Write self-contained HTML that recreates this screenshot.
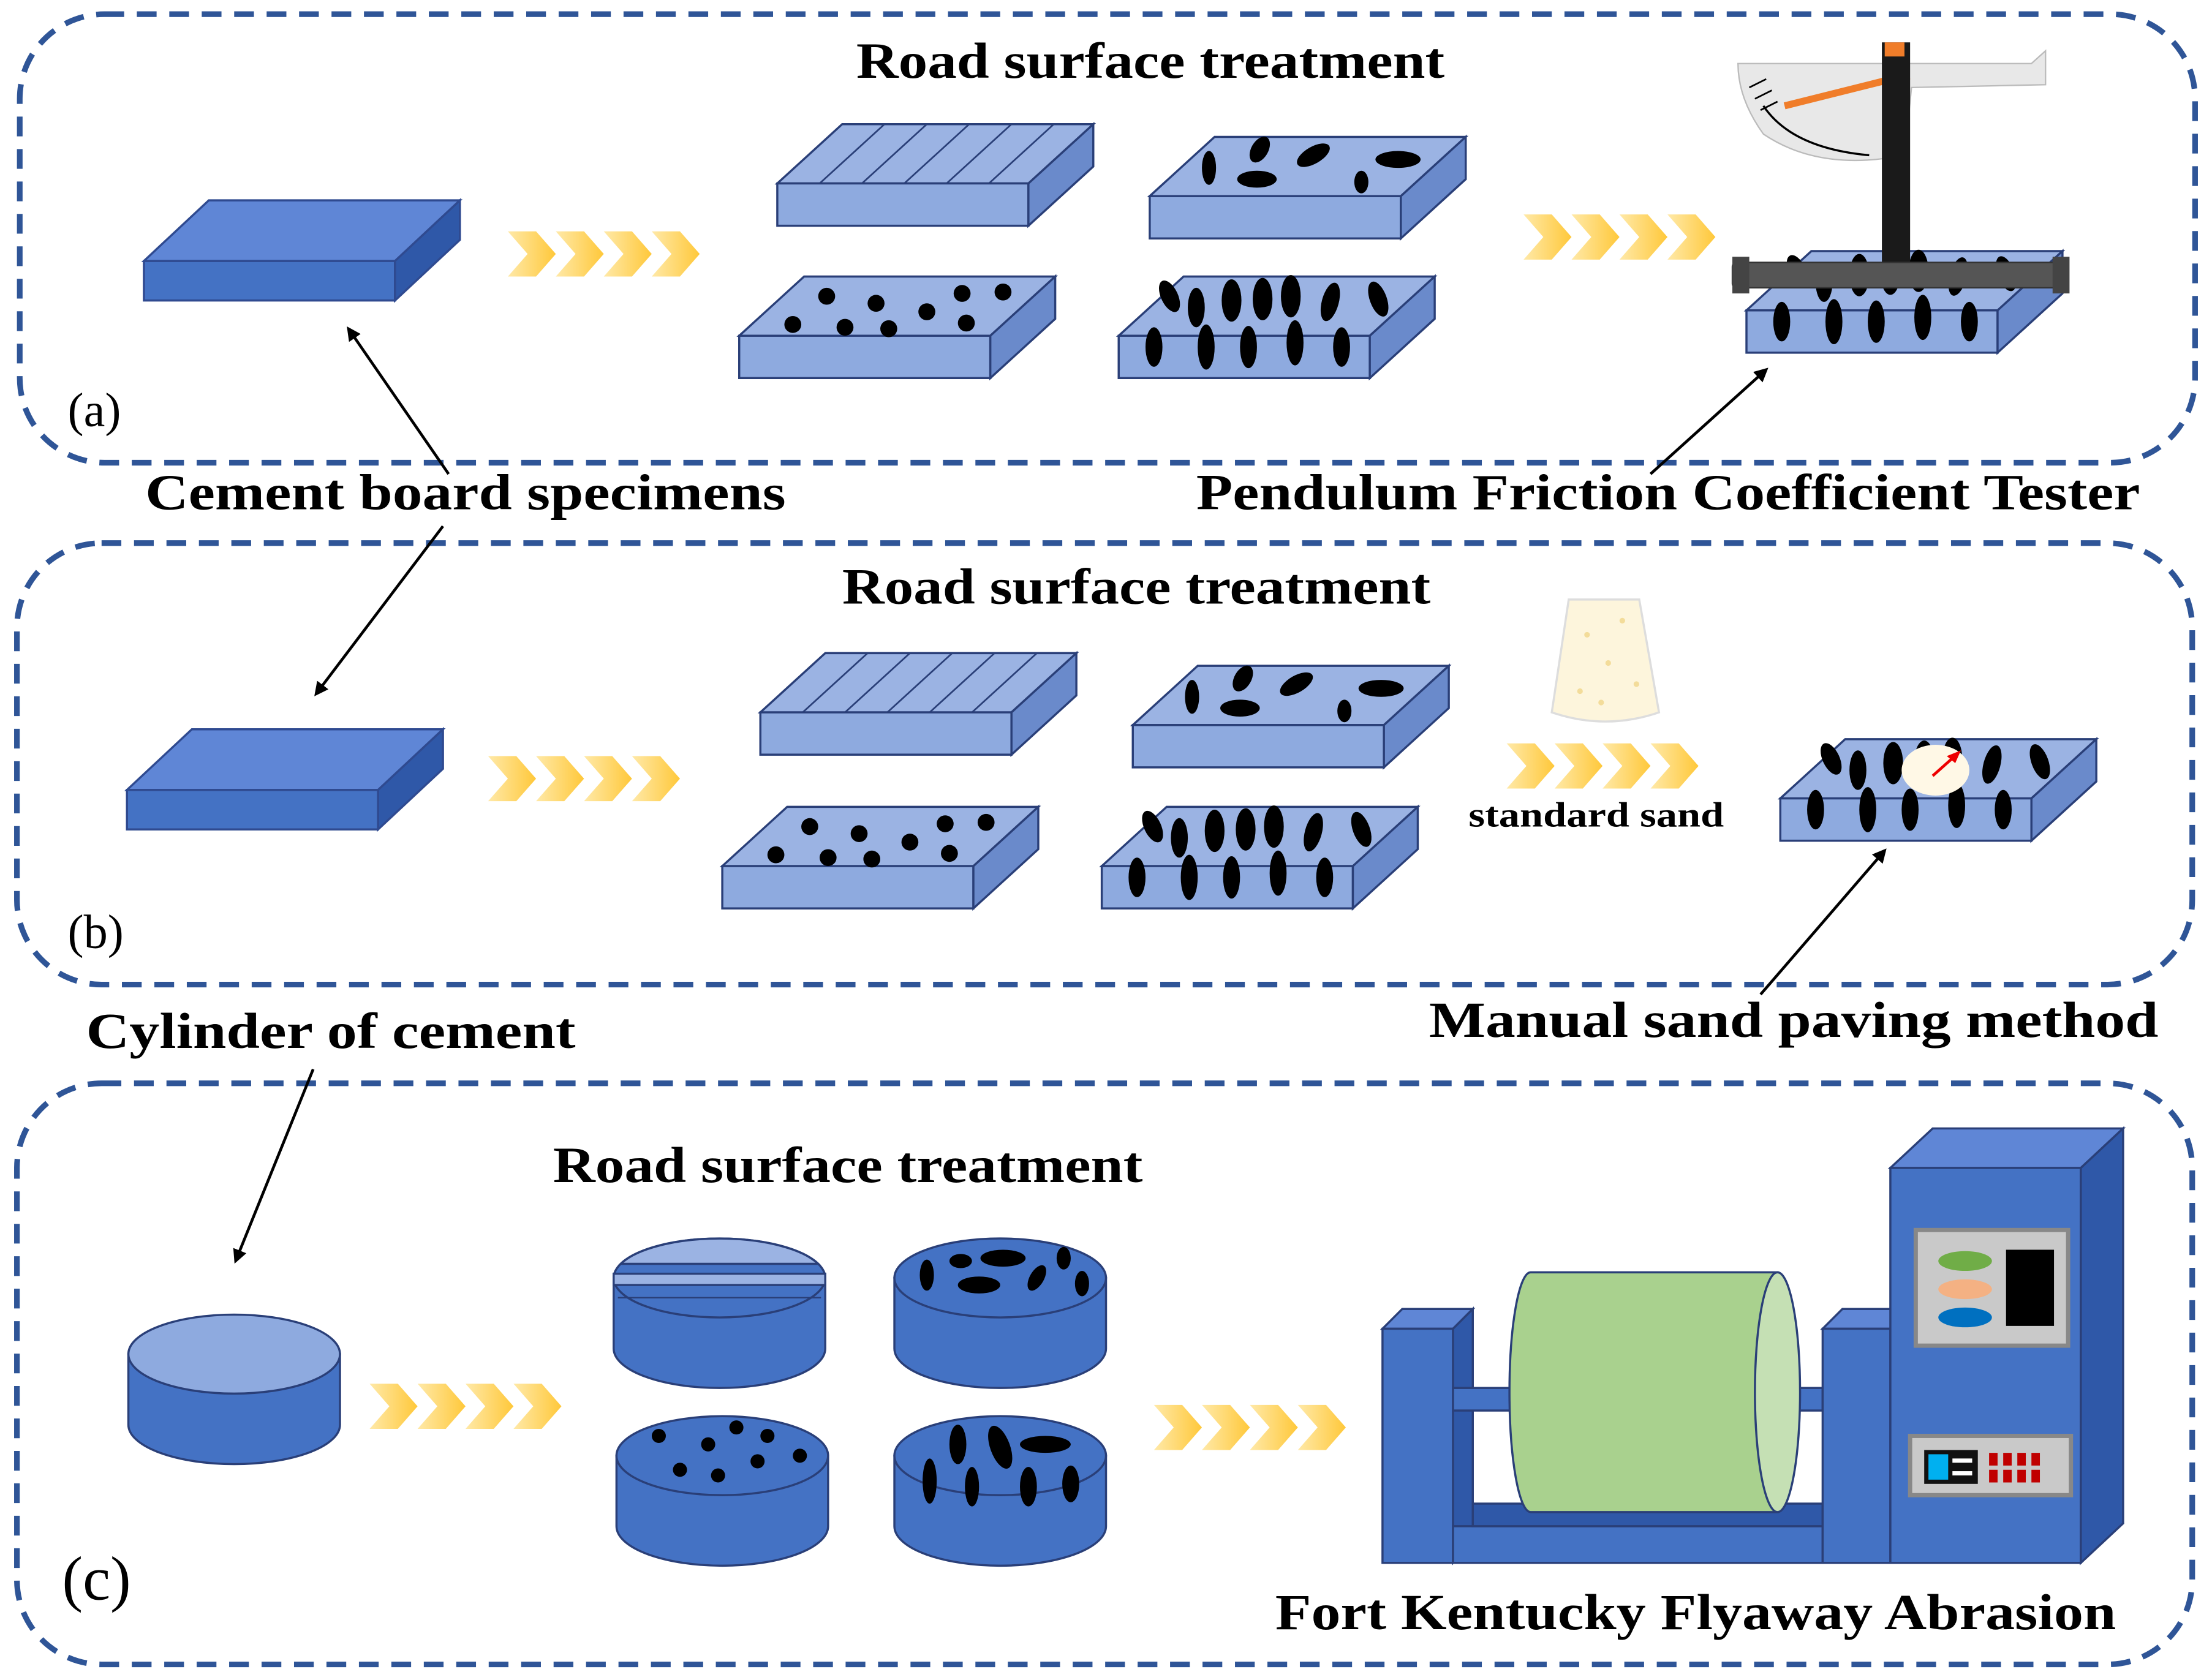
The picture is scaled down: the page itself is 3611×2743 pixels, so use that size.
<!DOCTYPE html>
<html><head><meta charset="utf-8"><style>
html,body{margin:0;padding:0;background:#fff}
svg{display:block}
text{font-family:"Liberation Serif",serif;font-weight:bold;fill:#000}
</style></head><body>
<svg width="3611" height="2743" viewBox="0 0 1568 1191" xmlns="http://www.w3.org/2000/svg">
<defs>
<linearGradient id="chev" x1="0" x2="1"><stop offset="0" stop-color="#ffe9a8"/><stop offset="1" stop-color="#ffc83a"/></linearGradient>
<marker id="ah" markerWidth="10" markerHeight="10" refX="8" refY="5" orient="auto" markerUnits="userSpaceOnUse"><path d="M0,0 L10,5 L0,10 z" fill="#000"/></marker>
<g id="big">
<polygon points="0,43 46,0 224,0 178,43" fill="#5f86d6" stroke="#2f4a90" stroke-width="1.5"/>
<rect x="0" y="43" width="178" height="28" fill="#4472c4" stroke="#2f4a90" stroke-width="1.5"/>
<polygon points="178,43 224,0 224,28 178,71" fill="#2f58a8" stroke="#2f4a90" stroke-width="1.5"/>
</g>
<g id="ts">
<polygon points="0,42 46,0 224,0 178,42" fill="#9bb3e3" stroke="#2a3f78" stroke-width="1.5"/>
<rect x="0" y="42" width="178" height="30" fill="#8eaadf" stroke="#2a3f78" stroke-width="1.5"/>
<polygon points="178,42 224,0 224,30 178,72" fill="#6a8acb" stroke="#2a3f78" stroke-width="1.5"/>
</g>
<g id="lines"><use href="#ts"/>
<g stroke="#2a3f78" stroke-width="1.2"><line x1="30" y1="42" x2="76" y2="0"/><line x1="60" y1="42" x2="106" y2="0"/><line x1="90" y1="42" x2="136" y2="0"/><line x1="120" y1="42" x2="166" y2="0"/><line x1="150" y1="42" x2="196" y2="0"/></g></g>
<g id="ell"><use href="#ts"/><g fill="#000">
<ellipse cx="42" cy="22" rx="5" ry="12"/><ellipse cx="78" cy="9" rx="6" ry="10" transform="rotate(30 78 9)"/><ellipse cx="76" cy="30" rx="14" ry="6"/><ellipse cx="116" cy="13" rx="13" ry="6" transform="rotate(-30 116 13)"/><ellipse cx="150" cy="32" rx="5" ry="8"/><ellipse cx="176" cy="16" rx="16" ry="6"/></g></g>
<g id="dots"><use href="#ts"/><g fill="#000">
<circle cx="38" cy="34" r="6"/><circle cx="62" cy="14" r="6"/><circle cx="75" cy="36" r="6"/><circle cx="97" cy="19" r="6"/><circle cx="106" cy="37" r="6"/><circle cx="133" cy="25" r="6"/><circle cx="158" cy="12" r="6"/><circle cx="161" cy="33" r="6"/><circle cx="187" cy="11" r="6"/></g></g>
<g id="ovals"><use href="#ts"/><g fill="#000">
<ellipse cx="36" cy="14" rx="6" ry="12" transform="rotate(-25 36 14)"/><ellipse cx="25" cy="50" rx="6" ry="14"/><ellipse cx="55" cy="22" rx="6" ry="14"/><ellipse cx="80" cy="17" rx="7" ry="15"/><ellipse cx="62" cy="50" rx="6" ry="16"/><ellipse cx="102" cy="16" rx="7" ry="15"/><ellipse cx="92" cy="50" rx="6" ry="15"/><ellipse cx="122" cy="14" rx="7" ry="15"/><ellipse cx="125" cy="47" rx="6" ry="16"/><ellipse cx="150" cy="18" rx="6" ry="14" transform="rotate(15 150 18)"/><ellipse cx="158" cy="50" rx="6" ry="14"/><ellipse cx="184" cy="16" rx="6" ry="13" transform="rotate(-20 184 16)"/></g></g>
<g id="chv" fill="url(#chev)"><polygon points="0,-16 20,-16 34,0 20,16 0,16 14,0"/><polygon points="34,-16 54,-16 68,0 54,16 34,16 48,0"/><polygon points="68,-16 88,-16 102,0 88,16 68,16 82,0"/><polygon points="102,-16 122,-16 136,0 122,16 102,16 116,0"/></g>
<g id="cyl"><path d="M-75,0 L-75,50 A75,28 0 0 0 75,50 L75,0 z" fill="#4472c4" stroke="#2a3f78" stroke-width="1.5"/><ellipse cx="0" cy="0" rx="75" ry="28" fill="#4472c4" stroke="#2a3f78" stroke-width="1.5"/></g>
</defs>

<g fill="none" stroke="#2f5597" stroke-width="4" stroke-dasharray="14,9">
<rect x="14" y="10" width="1542" height="318" rx="60"/>
<rect x="12" y="385" width="1542" height="313" rx="60"/>
<rect x="12" y="768" width="1542" height="412" rx="60"/>
</g>

<!-- (a) -->
<text x="607" y="55" font-size="36" textLength="417" lengthAdjust="spacingAndGlyphs">Road surface treatment</text>
<use href="#big" x="102" y="142"/>
<use href="#chv" x="360" y="180"/>
<use href="#lines" x="551" y="88"/>
<use href="#ell" x="815" y="97"/>
<use href="#dots" x="524" y="196"/>
<use href="#ovals" x="793" y="196"/>
<use href="#chv" x="1080" y="168"/>
<!-- pendulum -->
<use href="#ovals" x="1238" y="178"/>
<path d="M1232,45 L1440,45 L1450,36 L1450,60 L1355,62 L1350,110 Q1290,122 1250,95 Q1232,70 1232,45 z" fill="#e8e8e8" stroke="#bbb" stroke-width="1"/>
<path d="M1250,75 Q1270,105 1325,110" fill="none" stroke="#000" stroke-width="1.5"/>
<g stroke="#000" stroke-width="1.2"><line x1="1240" y1="62" x2="1252" y2="56"/><line x1="1244" y1="70" x2="1256" y2="64"/><line x1="1248" y1="78" x2="1260" y2="72"/></g>
<line x1="1265" y1="75" x2="1345" y2="55" stroke="#f07d2a" stroke-width="5"/>
<circle cx="1346" cy="56" r="8" fill="#f07d2a"/>
<rect x="1334" y="30" width="20" height="160" fill="#1a1a1a"/>
<rect x="1336" y="30" width="14" height="10" fill="#f07d2a"/>
<rect x="1228" y="186" width="238" height="18" rx="3" fill="#555" stroke="#333"/>
<rect x="1228" y="182" width="12" height="26" fill="#444"/><rect x="1455" y="182" width="12" height="26" fill="#444"/>
<text x="48" y="302" font-size="34" style="font-weight:normal">(a)</text>

<text x="103" y="361" font-size="36" textLength="454" lengthAdjust="spacingAndGlyphs">Cement board specimens</text>
<text x="848" y="361" font-size="36" textLength="669" lengthAdjust="spacingAndGlyphs">Pendulum Friction Coefficient Tester</text>
<g stroke="#000" stroke-width="2" marker-end="url(#ah)">
<line x1="318" y1="336" x2="247" y2="233"/>
<line x1="314" y1="373" x2="224" y2="492"/>
<line x1="1170" y1="336" x2="1252" y2="262"/>
<line x1="1248" y1="705" x2="1336" y2="603"/>
<line x1="222" y1="758" x2="167" y2="894"/>
</g>

<!-- (b) -->
<text x="597" y="428" font-size="36" textLength="417" lengthAdjust="spacingAndGlyphs">Road surface treatment</text>
<use href="#big" x="90" y="517"/>
<use href="#chv" x="346" y="552"/>
<use href="#lines" x="539" y="463"/>
<use href="#ell" x="803" y="472"/>
<use href="#dots" x="512" y="572"/>
<use href="#ovals" x="781" y="572"/>
<path d="M1112,425 L1162,425 L1176,505 Q1138,518 1100,505 z" fill="#fdf5dc" stroke="#ddd" stroke-width="1.5"/>
<g fill="#f3dc9a"><circle cx="1125" cy="450" r="2"/><circle cx="1140" cy="470" r="2"/><circle cx="1150" cy="440" r="2"/><circle cx="1120" cy="490" r="2"/><circle cx="1160" cy="485" r="2"/><circle cx="1135" cy="498" r="2"/></g>
<use href="#chv" x="1068" y="543"/>
<text x="1041" y="586" font-size="25" textLength="181" lengthAdjust="spacingAndGlyphs">standard sand</text>
<use href="#ovals" x="1262" y="524"/>
<ellipse cx="1372" cy="546" rx="24" ry="18" fill="#fff8e6"/>
<line x1="1370" y1="550" x2="1388" y2="534" stroke="#e00" stroke-width="2"/>
<polygon points="1390,532 1380,536 1386,541" fill="#e00"/>
<text x="48" y="672" font-size="34" style="font-weight:normal">(b)</text>
<text x="1013" y="735" font-size="36" textLength="517" lengthAdjust="spacingAndGlyphs">Manual sand paving method</text>
<text x="61" y="743" font-size="36" textLength="347" lengthAdjust="spacingAndGlyphs">Cylinder of cement</text>

<!-- (c) -->
<text x="392" y="838" font-size="36" textLength="418" lengthAdjust="spacingAndGlyphs">Road surface treatment</text>
<g transform="translate(166,960)"><path d="M-75,0 L-75,50 A75,28 0 0 0 75,50 L75,0 z" fill="#4472c4" stroke="#2a3f78" stroke-width="1.5"/><ellipse cx="0" cy="0" rx="75" ry="28" fill="#8eaadf" stroke="#2a3f78" stroke-width="1.5"/></g>
<use href="#chv" x="262" y="997"/>
<g transform="translate(510,906)"><use href="#cyl"/><g stroke="#2a3f78" stroke-width="1.5" fill="#9bb3e3"><path d="M-70,-10 L70,-10 A75,28 0 0 0 -70,-10 z"/><rect x="-75" y="-3" width="150" height="8"/></g><line x1="-72" y1="14" x2="72" y2="14" stroke="#2a3f78"/></g>
<g transform="translate(709,906)"><use href="#cyl"/><g fill="#000"><ellipse cx="-52" cy="-2" rx="5" ry="11"/><ellipse cx="-28" cy="-12" rx="8" ry="5"/><ellipse cx="-15" cy="5" rx="15" ry="6"/><ellipse cx="2" cy="-14" rx="16" ry="6"/><ellipse cx="26" cy="0" rx="5" ry="10" transform="rotate(30 26 0)"/><ellipse cx="45" cy="-14" rx="5" ry="8"/><ellipse cx="58" cy="4" rx="5" ry="9"/></g></g>
<g transform="translate(512,1032)"><use href="#cyl"/><g fill="#000"><circle cx="-45" cy="-14" r="5"/><circle cx="-30" cy="10" r="5"/><circle cx="-10" cy="-8" r="5"/><circle cx="-3" cy="14" r="5"/><circle cx="10" cy="-20" r="5"/><circle cx="25" cy="4" r="5"/><circle cx="32" cy="-14" r="5"/><circle cx="55" cy="0" r="5"/></g></g>
<g transform="translate(709,1032)"><use href="#cyl"/><g fill="#000"><ellipse cx="-50" cy="18" rx="5" ry="16"/><ellipse cx="-30" cy="-8" rx="6" ry="14"/><ellipse cx="-20" cy="22" rx="5" ry="14"/><ellipse cx="0" cy="-6" rx="7" ry="16" transform="rotate(-20 0 -6)"/><ellipse cx="20" cy="22" rx="6" ry="14"/><ellipse cx="32" cy="-8" rx="18" ry="6"/><ellipse cx="50" cy="20" rx="6" ry="13"/></g></g>
<use href="#chv" x="818" y="1012"/>

<!-- abrasion machine -->
<g stroke="#2a3f78" stroke-width="1.5">
<polygon points="980,942 994,928 1044,928 1030,942" fill="#5f86d6"/>
<rect x="980" y="942" width="50" height="166" fill="#4472c4"/>
<polygon points="1030,942 1044,928 1044,1094 1030,1108" fill="#2f58a8"/>
<rect x="1030" y="1082" width="262" height="26" fill="#4472c4"/>
<rect x="1044" y="1066" width="248" height="16" fill="#2f58a8"/>
<rect x="1030" y="984" width="262" height="16" fill="#4472c4"/>
<path d="M1085,902 L1260,902 L1260,1072 L1085,1072 A15,85 0 0 1 1085,902 z" fill="#a9d18e"/>
<ellipse cx="1260" cy="987" rx="16" ry="85" fill="#c5e0b4"/>
<polygon points="1292,942 1306,928 1355,928 1340,942" fill="#5f86d6"/>
<rect x="1292" y="942" width="48" height="166" fill="#4472c4"/>
<polygon points="1340,828 1370,800 1505,800 1475,828" fill="#5f86d6"/>
<rect x="1340" y="828" width="135" height="280" fill="#4472c4"/>
<polygon points="1475,828 1505,800 1505,1080 1475,1108" fill="#2f58a8"/>
<rect x="1358" y="872" width="108" height="82" fill="#c9c9c9" stroke="#888" stroke-width="3"/>
<rect x="1354" y="1018" width="114" height="42" fill="#c9c9c9" stroke="#888" stroke-width="3"/>
</g>
<ellipse cx="1393" cy="894" rx="19" ry="7" fill="#70ad47"/>
<ellipse cx="1393" cy="914" rx="19" ry="7" fill="#f4b183"/>
<ellipse cx="1393" cy="934" rx="19" ry="7" fill="#0070c0"/>
<rect x="1422" y="886" width="34" height="54" fill="#000"/>
<rect x="1364" y="1028" width="38" height="24" fill="#111"/>
<rect x="1367" y="1031" width="14" height="18" fill="#00b0f0"/>
<g fill="#fff"><rect x="1384" y="1034" width="14" height="3"/><rect x="1384" y="1043" width="14" height="3"/></g>
<g fill="#c00000"><rect x="1410" y="1030" width="6" height="9"/><rect x="1420" y="1030" width="6" height="9"/><rect x="1430" y="1030" width="6" height="9"/><rect x="1440" y="1030" width="6" height="9"/><rect x="1410" y="1042" width="6" height="9"/><rect x="1420" y="1042" width="6" height="9"/><rect x="1430" y="1042" width="6" height="9"/><rect x="1440" y="1042" width="6" height="9"/></g>

<text x="44" y="1134" font-size="44" style="font-weight:normal">(c)</text>
<text x="904" y="1155" font-size="36" textLength="596" lengthAdjust="spacingAndGlyphs">Fort Kentucky Flyaway Abrasion</text>
</svg>
</body></html>
